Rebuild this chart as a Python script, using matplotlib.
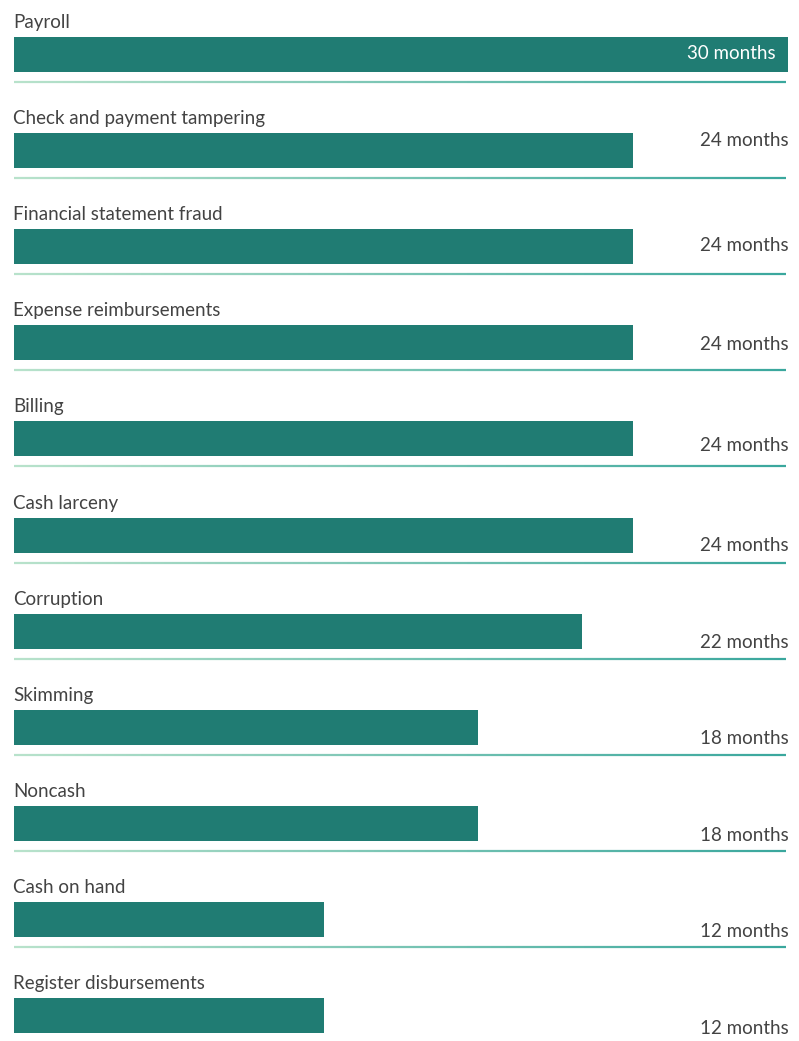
import matplotlib.pyplot as plt
import numpy as np
from matplotlib.colors import LinearSegmentedColormap
from matplotlib.collections import LineCollection

categories = [
    "Payroll",
    "Check and payment tampering",
    "Financial statement fraud",
    "Expense reimbursements",
    "Billing",
    "Cash larceny",
    "Corruption",
    "Skimming",
    "Noncash",
    "Cash on hand",
    "Register disbursements",
]
months = [30, 24, 24, 24, 24, 24, 22, 18, 18, 12, 12]
value_labels = [f"{m} months" for m in months]

# style: how far below each bar top the value label sits (in rows)
label_offsets = [0.17, 0.075, 0.165, 0.2, 0.25, 0.29, 0.30, 0.30, 0.31, 0.31, 0.32]

BAR_COLOR = "#207c73"
TEXT_COLOR = "#434343"
PX_ROW = 96.1

plt.rcParams["font.family"] = ["Lato", "DejaVu Sans"]

fig = plt.figure(figsize=(7.99, 10.41), dpi=100)
ax = fig.add_axes([14 / 799, 0, 774 / 799, 1])

rows = np.arange(len(categories))
bar_h = 35 / PX_ROW
ax.barh(rows, months, height=bar_h, align="edge", color=BAR_COLOR)

# gradient separator lines under each row
cmap = LinearSegmentedColormap.from_list("sep", ["#b8e2cb", "#3aa79d"])
xs = np.linspace(-0.04, 29.92, 200)
line_y = 45 / PX_ROW
for i in rows[:-1]:
    pts = np.column_stack([xs, np.full_like(xs, i + line_y)])
    segs = np.stack([pts[:-1], pts[1:]], axis=1)
    lc = LineCollection(segs, colors=cmap(np.linspace(0, 1, len(segs))),
                        linewidths=1.6, capstyle="butt")
    ax.add_collection(lc)

for i, (cat, m, lab, off) in enumerate(zip(categories, months, value_labels, label_offsets)):
    ax.text(-0.04, i - 9 / PX_ROW, cat, ha="left", va="baseline",
            fontsize=13.5, color=TEXT_COLOR, clip_on=False)
    if i == 0:
        ax.text(m - 0.47, i + off, lab, ha="right", va="center",
                fontsize=13.5, color="white")
    else:
        ax.text(30.04, i + off, lab, ha="right", va="center",
                fontsize=13.5, color=TEXT_COLOR, clip_on=False)

ax.set_xlim(0, 30)
ax.set_ylim((1041 - 37) / PX_ROW, -37 / PX_ROW)
ax.axis("off")

fig.savefig("out.png", dpi=100)
